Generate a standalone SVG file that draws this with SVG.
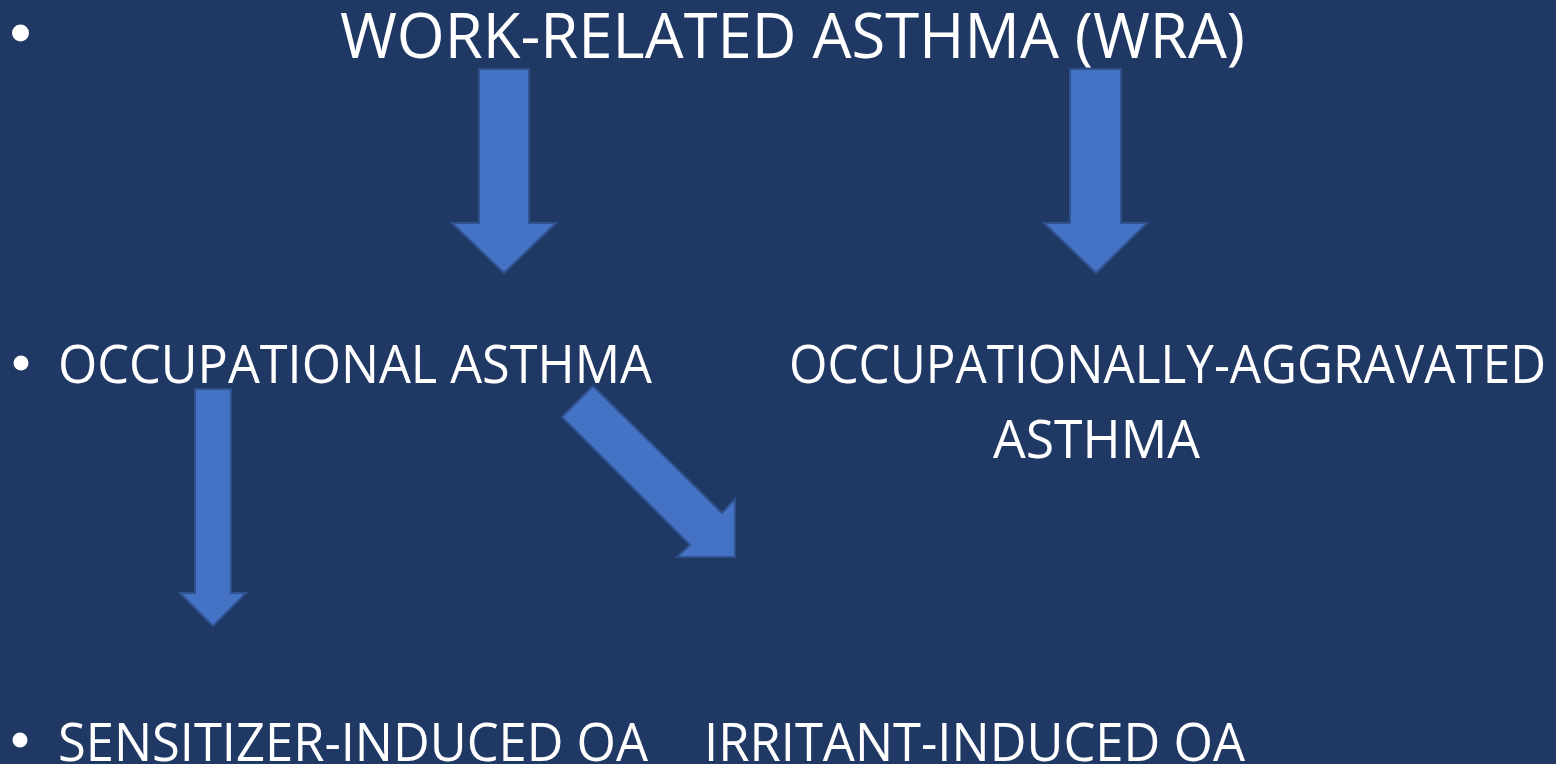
<svg xmlns="http://www.w3.org/2000/svg" width="1556" height="764" viewBox="0 0 1556 764">
<style>
.t{font-family:"Open Sans","Liberation Sans",sans-serif;fill:#ffffff}
.arrow{fill:#4472C4;stroke:#2F528F;stroke-width:2;stroke-linejoin:miter}
.bullet{fill:#ffffff}
</style>
<rect width="1556" height="764" fill="#203864"/>
<g id="node-wra">
<circle class="bullet" cx="20.5" cy="33" r="8.5"/>
<text class="t" x="340" y="58" font-size="63" textLength="905" lengthAdjust="spacingAndGlyphs">WORK-RELATED ASTHMA (WRA)</text>
</g>
<g id="node-oa">
<circle class="bullet" cx="21" cy="363" r="7.5"/>
<text class="t" x="58" y="383" font-size="53" textLength="594" lengthAdjust="spacingAndGlyphs">OCCUPATIONAL ASTHMA</text>
</g>
<g id="node-oaa">
<text class="t" x="789" y="383" font-size="53" textLength="757" lengthAdjust="spacingAndGlyphs">OCCUPATIONALLY-AGGRAVATED</text>
<text class="t" x="993" y="458" font-size="53" textLength="207" lengthAdjust="spacingAndGlyphs">ASTHMA</text>
</g>
<g id="node-sioa">
<circle class="bullet" cx="20" cy="740" r="7.5"/>
<text class="t" x="58" y="761" font-size="53" textLength="590" lengthAdjust="spacingAndGlyphs">SENSITIZER-INDUCED OA</text>
</g>
<g id="node-iioa">
<text class="t" x="704" y="761" font-size="53" textLength="541" lengthAdjust="spacingAndGlyphs">IRRITANT-INDUCED OA</text>
</g>
<g id="connectors">
<polygon class="arrow" points="479,69 529,69 529,223 556,223 504,273 452,223 479,223"/>
<polygon class="arrow" points="1070,69 1121,69 1121,223 1147,223 1096,273 1044,223 1070,223"/>
<polygon class="arrow" points="195,389 231,389 231,593 246,593 213,626 180,593 195,593"/>
<polygon class="arrow" points="593,386 722,513 735,499 735,557 677,557 690,545 562,417"/>
</g>
</svg>
